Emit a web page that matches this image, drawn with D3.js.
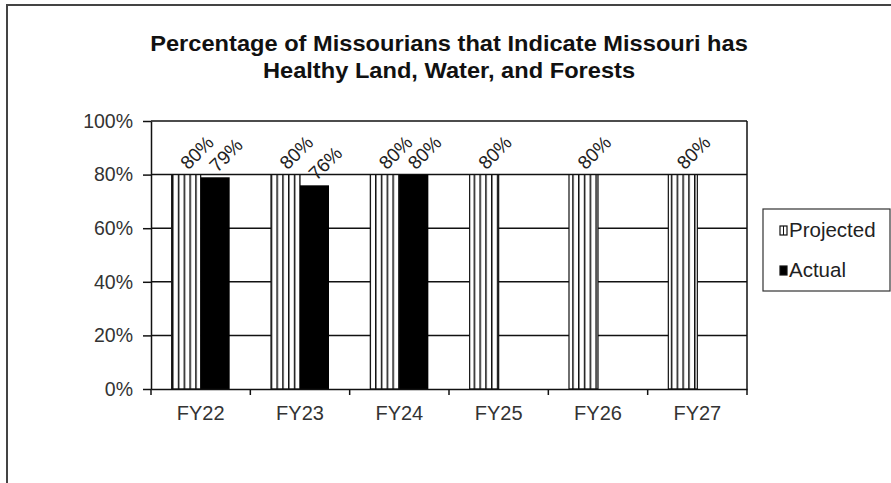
<!DOCTYPE html>
<html><head><meta charset="utf-8">
<script src="https://cdn.jsdelivr.net/npm/d3@7"></script>
<style>body{margin:0;background:#fff}svg{display:block}text{font-family:"Liberation Sans",Arial,sans-serif}</style>
</head><body>
<script>
const categories = ["FY22","FY23","FY24","FY25","FY26","FY27"];
const projected = [80,80,80,80,80,80];
const actual = [79,76,80,null,null,null];
const yTicks = [0,20,40,60,80,100];
const seriesNames = ["Projected","Actual"];
const titleLines = ["Percentage of Missourians that Indicate Missouri has","Healthy Land, Water, and Forests"];

const W=891,H=483;
const svg=d3.select("body").append("svg").attr("width",W).attr("height",H);
const defs=svg.append("defs");
const pat=defs.append("pattern").attr("id","vstripe").attr("patternUnits","userSpaceOnUse")
  .attr("width",5.8).attr("height",10).attr("x",172);
pat.append("rect").attr("width",5.8).attr("height",10).attr("fill","#fff");
pat.append("rect").attr("x",0).attr("width",1.5).attr("height",10).attr("fill","#111");

svg.append("rect").attr("x",7).attr("y",5).attr("width",W).attr("height",H).attr("fill","#fff").attr("stroke","#444").attr("stroke-width",2);

const x=d3.scaleBand().domain(categories).range([151,747]).paddingInner(0.416).paddingOuter(0.208);
const x1=d3.scaleBand().domain(seriesNames).range([0,x.bandwidth()]);
const y=d3.scaleLinear().domain([0,100]).range([389,121]);

// title
svg.append("g").attr("transform","translate(449,0) scale(1.075,1)").selectAll("text").data(titleLines).join("text")
  .attr("x",0).attr("y",(d,i)=>51+i*27).attr("text-anchor","middle")
  .attr("font-size",22).attr("font-weight","bold").attr("fill","#111").text(d=>d);

// grid
svg.append("g").selectAll("line").data(yTicks.filter(d=>d>0)).join("line")
  .attr("x1",151).attr("x2",747).attr("y1",d=>y(d)).attr("y2",d=>y(d)).attr("stroke","#111").attr("stroke-width",1.5);
svg.append("line").attr("x1",747).attr("x2",747).attr("y1",y(100)).attr("y2",y(0)).attr("stroke","#111").attr("stroke-width",1.5);

// bars
const g=svg.append("g");
g.selectAll("rect.p").data(categories).join("rect").attr("class","p")
  .attr("x",d=>x(d)+x1("Projected")).attr("width",x1.bandwidth())
  .attr("y",(d,i)=>y(projected[i])).attr("height",(d,i)=>y(0)-y(projected[i]))
  .attr("fill","url(#vstripe)").attr("stroke","#111").attr("stroke-width",1.2);
const act=categories.map((c,i)=>({c,v:actual[i]})).filter(d=>d.v!=null);
g.selectAll("rect.a").data(act).join("rect").attr("class","a")
  .attr("x",d=>x(d.c)+x1("Actual")).attr("width",x1.bandwidth())
  .attr("y",d=>y(d.v)).attr("height",d=>y(0)-y(d.v)).attr("fill","#000");

// labels
const lab=[];
categories.forEach((c,i)=>{lab.push({x:x(c)+x1("Projected")+x1.bandwidth()/2,v:projected[i]});
  if(actual[i]!=null) lab.push({x:x(c)+x1("Actual")+x1.bandwidth()/2,v:actual[i]});});
g.selectAll("text.lab").data(lab).join("text").attr("class","lab")
  .attr("transform",d=>`translate(${d.x+2},${y(d.v)-4}) rotate(-45)`)
  .attr("font-size",19).attr("fill","#222").text(d=>d.v+"%");

// axes
const ya=d3.axisLeft(y).tickValues(yTicks).tickFormat(d=>d+"%").tickSize(8).tickSizeOuter(0);
const yg=svg.append("g").attr("transform","translate(151,0)").call(ya);
yg.selectAll("path,line").attr("stroke","#111").attr("stroke-width",1.5);
yg.selectAll("text").attr("font-size",19.5).attr("fill","#333").attr("x",-18).attr("font-family","Liberation Sans, Arial, sans-serif");
const xa=d3.axisBottom(x).tickSize(0).tickSizeOuter(0);
const xg=svg.append("g").attr("transform","translate(0,389)").call(xa);
xg.select("path").attr("stroke","#111").attr("stroke-width",1.5);
xg.selectAll("text").attr("font-size",20).attr("fill","#333").attr("y",0).attr("dy","31").attr("font-family","Liberation Sans, Arial, sans-serif");
const bounds=categories.map(c=>x(c)-x.step()*0.208).concat([747]);
svg.append("g").selectAll("line").data(bounds).join("line")
  .attr("x1",d=>d).attr("x2",d=>d).attr("y1",389).attr("y2",395).attr("stroke","#111").attr("stroke-width",1.5);

// legend
const lg=svg.append("g");
lg.append("rect").attr("x",763).attr("y",209).attr("width",127).attr("height",82).attr("fill","#fff").attr("stroke","#333").attr("stroke-width",1.2);
const li=lg.selectAll("g").data(seriesNames).join("g").attr("transform",(d,i)=>`translate(780,${226+i*40})`);
li.append("rect").attr("width",7).attr("height",9).attr("fill",(d,i)=>i===0?"#fff":"#000").attr("stroke","#111").attr("stroke-width",1.2);
li.filter((d,i)=>i===0).append("line").attr("x1",3.5).attr("x2",3.5).attr("y1",0).attr("y2",9).attr("stroke","#111").attr("stroke-width",1);
li.append("text").attr("x",9).attr("y",11).attr("font-size",20.5).attr("fill","#222").text(d=>d);
</script>
</body></html>
